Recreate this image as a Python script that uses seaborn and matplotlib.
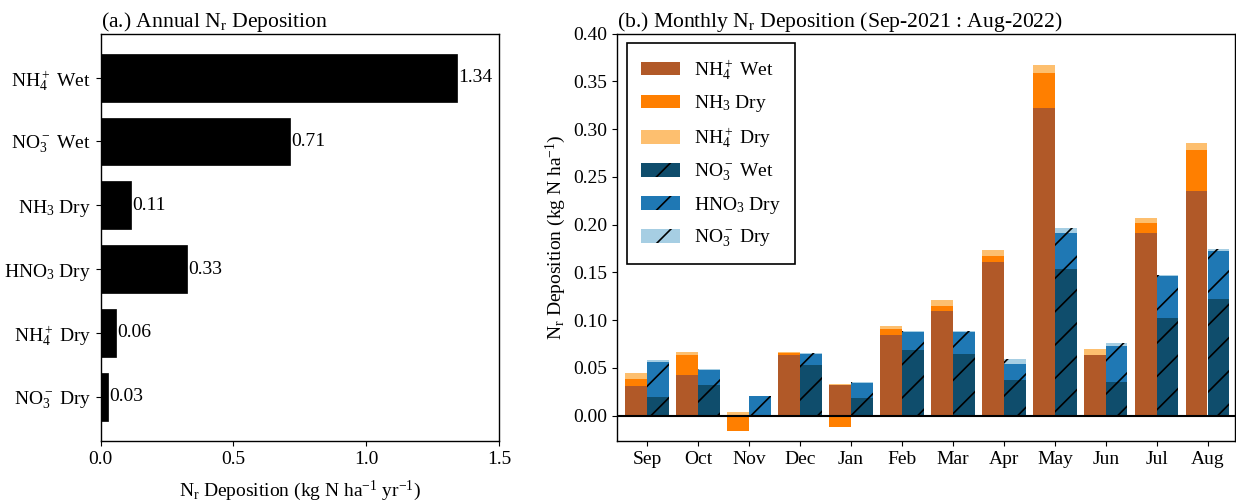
import numpy as np
import pandas as pd
import matplotlib
matplotlib.use("Agg")
import matplotlib.pyplot as plt
from matplotlib.patches import Patch
from matplotlib.ticker import FormatStrFormatter
import seaborn as sns

# ---------------- data ----------------
annual_labels = ["NH$_4^+$ Wet", "NO$_3^-$ Wet", "NH$_3$ Dry", "HNO$_3$ Dry",
                 "NH$_4^+$ Dry", "NO$_3^-$ Dry"]
annual_values = [1.343, 0.713, 0.113, 0.326, 0.058, 0.028]

months = ["Sep", "Oct", "Nov", "Dec", "Jan", "Feb", "Mar", "Apr", "May", "Jun", "Jul", "Aug"]
nh4_wet = [0.031, 0.042, 0.001, 0.063, 0.032, 0.0845, 0.110, 0.161, 0.322, 0.063, 0.191, 0.235]
nh3_dry = [0.007, 0.021, -0.016, 0.003, -0.012, 0.006, 0.005, 0.006, 0.037, 0.0005, 0.011, 0.043]
nh4_dry = [0.007, 0.004, 0.003, 0.001, 0.0015, 0.0035, 0.006, 0.006, 0.008, 0.0065, 0.005, 0.007]
no3_wet = [0.019, 0.032, 0.001, 0.053, 0.018, 0.069, 0.064, 0.037, 0.153, 0.035, 0.102, 0.122]
hno3_dry = [0.037, 0.016, 0.019, 0.0115, 0.016, 0.019, 0.023, 0.017, 0.038, 0.038, 0.044, 0.050]
no3_dry = [0.002, 0.001, 0.001, 0.001, 0.001, 0.001, 0.002, 0.005, 0.005, 0.0035, 0.001, 0.002]

legend_labels = ["NH$_4^+$ Wet", "NH$_3$ Dry", "NH$_4^+$ Dry",
                 "NO$_3^-$ Wet", "HNO$_3$ Dry", "NO$_3^-$ Dry"]
colors = ["#b15928", "#ff7f00", "#fdbf6f", "#0f4d6c", "#1f78b4", "#a6cee3"]

# ---------------- style ----------------
sns.set_style("ticks")
plt.rcParams["font.family"] = ["Liberation Serif", "DejaVu Serif"]
plt.rcParams["mathtext.fontset"] = "custom"
plt.rcParams["mathtext.rm"] = "Liberation Serif"
plt.rcParams["mathtext.it"] = "Liberation Serif:italic"
plt.rcParams["mathtext.bf"] = "Liberation Serif:bold"
plt.rcParams["font.size"] = 14
plt.rcParams["axes.edgecolor"] = "black"
plt.rcParams["axes.linewidth"] = 1.0
plt.rcParams["xtick.color"] = "black"
plt.rcParams["ytick.color"] = "black"
plt.rcParams["text.color"] = "black"
plt.rcParams["axes.labelcolor"] = "black"
plt.rcParams["hatch.linewidth"] = 1.2

fig = plt.figure(figsize=(12.36, 5.01), dpi=100)
ax1 = fig.add_axes([0.0815, 0.12, 0.3222, 0.813])
ax2 = fig.add_axes([0.4992, 0.12, 0.4998, 0.813])

# ---------------- panel (a) ----------------
df_a = pd.DataFrame({"label": annual_labels, "value": annual_values})
sns.barplot(data=df_a, x="value", y="label", orient="h", color="black",
            saturation=1, width=0.75, errorbar=None, edgecolor="black",
            linewidth=0.5, ax=ax1)
ax1.bar_label(ax1.containers[0], labels=[f"{v:.2f}" for v in annual_values],
              padding=1, fontsize=14)
ax1.set_xlim(0, 1.5)
ax1.set_xticks([0, 0.5, 1.0, 1.5])
ax1.xaxis.set_major_formatter(FormatStrFormatter("%.1f"))
ax1.set_ylim(5.69, -0.69)
ax1.set_ylabel("")
ax1.set_xlabel(r"N$_\mathrm{r}$ Deposition (kg N ha$^{-1}$ yr$^{-1}$)", fontsize=14, labelpad=8)
ax1.set_title(r"(a.) Annual N$_\mathrm{r}$ Deposition", loc="left", fontsize=15.6, pad=4)
ax1.tick_params(labelsize=14)

# ---------------- panel (b) ----------------
idx = np.arange(len(months))
bw = 0.42
off = 0.215

def stack(layers):
    pos = np.zeros(len(months))
    neg = np.zeros(len(months))
    bottoms = []
    for lay in layers:
        lay = np.asarray(lay, dtype=float)
        b = np.where(lay >= 0, pos, neg)
        bottoms.append(b.copy())
        pos = np.where(lay >= 0, pos + lay, pos)
        neg = np.where(lay < 0, neg + lay, neg)
    return bottoms

nh_layers = [nh4_wet, nh3_dry, nh4_dry]
no_layers = [no3_wet, hno3_dry, no3_dry]
nh_bottoms = stack(nh_layers)
no_bottoms = stack(no_layers)

for lay, bot, col in zip(nh_layers, nh_bottoms, colors[:3]):
    d = pd.DataFrame({"pos": idx - off, "value": lay})
    sns.barplot(data=d, x="pos", y="value", native_scale=True, color=col,
                saturation=1, width=bw, errorbar=None, bottom=bot,
                edgecolor=col, linewidth=0, ax=ax2)

for lay, bot, col in zip(no_layers, no_bottoms, colors[3:]):
    d = pd.DataFrame({"pos": idx + off, "value": lay})
    sns.barplot(data=d, x="pos", y="value", native_scale=True, color=col,
                saturation=1, width=bw, errorbar=None, bottom=bot,
                edgecolor="black", linewidth=0, hatch="/", ax=ax2)

ax2.axhline(0, color="black", linewidth=1.5)
ax2.set_xticks(idx)
ax2.set_xticklabels(months)
ax2.set_xlim(-0.59, 11.53)
ax2.set_ylim(-0.0265, 0.40)
ax2.set_yticks(np.arange(0, 0.401, 0.05))
ax2.yaxis.set_major_formatter(FormatStrFormatter("%.2f"))
ax2.set_xlabel("")
ax2.set_ylabel(r"N$_\mathrm{r}$ Deposition (kg N ha$^{-1}$)", fontsize=14)
ax2.set_title(r"(b.) Monthly N$_\mathrm{r}$ Deposition (Sep-2021 : Aug-2022)", loc="left",
              fontsize=15.6, pad=4)
ax2.tick_params(labelsize=14)

handles = []
for i, (lab, col) in enumerate(zip(legend_labels, colors)):
    if i < 3:
        handles.append(Patch(facecolor=col, edgecolor=col, linewidth=0, label=lab))
    else:
        handles.append(Patch(facecolor=col, edgecolor="black", linewidth=0,
                             hatch="/", label=lab))
leg = ax2.legend(handles=handles, loc="upper left", fontsize=14, fancybox=False,
                 framealpha=1, edgecolor="black", labelspacing=0.6,
                 handlelength=2.0, handletextpad=0.7, borderpad=0.75,
                 borderaxespad=0.5)
leg.get_frame().set_linewidth(1.2)

fig.savefig("out.png", dpi=100)
